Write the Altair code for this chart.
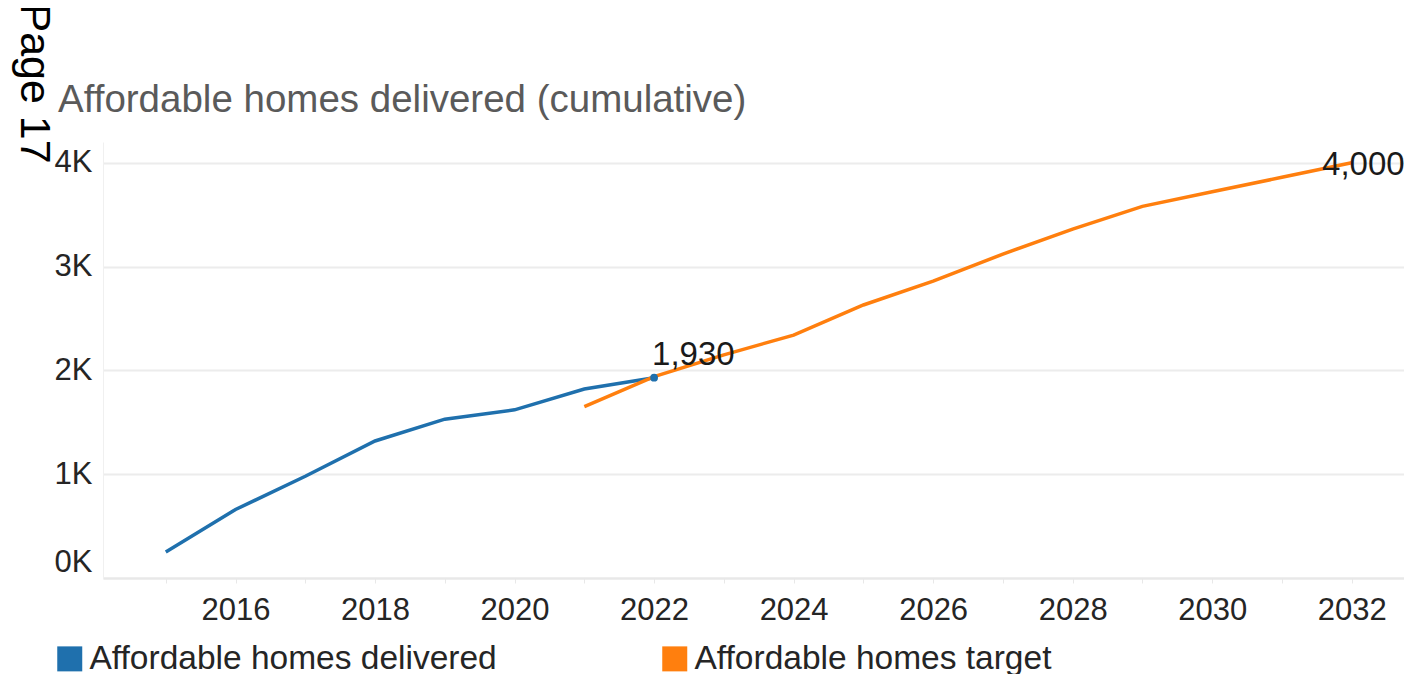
import altair as alt
import pandas as pd

# ---- data ----
series_names = ["Affordable homes delivered", "Affordable homes target"]
series_colors = ["#1f70ad", "#ff7f0e"]

delivered_years = [2015, 2016, 2017, 2018, 2019, 2020, 2021, 2022]
delivered_values = [250, 660, 980, 1320, 1530, 1620, 1820, 1930]

target_years = [2021, 2022, 2023, 2024, 2025, 2026, 2027, 2028, 2029, 2030, 2031, 2032]
target_values = [1650, 1940, 2150, 2340, 2630, 2860, 3120, 3360, 3580, 3720, 3860, 4000]

x_ticks = list(range(2015, 2033))
y_ticks = [0, 1000, 2000, 3000, 4000]

rows = []
for y, v in zip(delivered_years, delivered_values):
    rows.append({"year": y, "value": v, "series": series_names[0]})
for y, v in zip(target_years, target_values):
    rows.append({"year": y, "value": v, "series": series_names[1]})
df = pd.DataFrame(rows)

FONT = "Liberation Sans"

x_enc = alt.X(
    "year:Q",
    scale=alt.Scale(domain=[2014.1, 2032.75], nice=False, zero=False),
    axis=alt.Axis(
        values=x_ticks,
        labelExpr="datum.value % 2 == 0 ? '' + datum.value : ''",
        title=None,
        grid=False,
        domainColor="#e8e8e8",
        domainWidth=2,
        tickColor="#e8e8e8",
        tickSize=5,
        tickWidth=1,
        labelFont=FONT,
        labelFontSize=31,
        labelColor="#252525",
        labelPadding=12,
    ),
)

y_enc = alt.Y(
    "value:Q",
    scale=alt.Scale(domain=[0, 4200], nice=False),
    axis=alt.Axis(
        values=y_ticks,
        labelExpr="(datum.value / 1000) + 'K'",
        title="Page 17",
        titleAngle=90,
        titleAlign="left",
        titleBaseline="alphabetic",
        titleX=-83,
        titleY=-139,
        titleFont=FONT,
        titleFontSize=43,
        titleFontWeight="normal",
        titleColor="#000000",
        grid=True,
        gridColor="#ececec",
        gridWidth=2,
        domain=True,
        domainColor="#f0f0f0",
        domainWidth=1,
        ticks=False,
        labelFont=FONT,
        labelFontSize=31,
        labelColor="#252525",
        labelPadding=11,
        labelFlush=True,
    ),
)

color_enc = alt.Color(
    "series:N",
    scale=alt.Scale(domain=series_names, range=series_colors),
    legend=alt.Legend(
        title=None,
        orient="none",
        legendX=-50,
        legendY=500,
        direction="horizontal",
        symbolType="square",
        symbolSize=144,
        symbolStrokeWidth=13,
        labelFont=FONT,
        labelFontSize=33.5,
        labelColor="#252525",
        labelOffset=3,
        columnPadding=145,
        labelLimit=600,
    ),
)

base = alt.Chart(df)

lines = base.mark_line(strokeWidth=3.5).encode(
    x=x_enc, y=y_enc, color=color_enc, detail="series:N"
)

end_dot = base.mark_point(filled=True, size=60, opacity=1).encode(
    x="year:Q",
    y="value:Q",
    color=alt.Color("series:N", scale=alt.Scale(domain=series_names, range=series_colors), legend=None),
).transform_filter(
    (alt.datum.series == series_names[0]) & (alt.datum.year == 2022)
)

label_delivered = base.mark_text(
    align="left", baseline="alphabetic", dx=-2, dy=-13,
    font=FONT, fontSize=33, color="#1a1a1a",
).encode(
    x="year:Q", y="value:Q", text=alt.Text("value:Q", format=",")
).transform_filter(
    (alt.datum.series == series_names[0]) & (alt.datum.year == 2022)
)

label_target = base.mark_text(
    align="right", baseline="alphabetic", dx=53, dy=12,
    font=FONT, fontSize=33, color="#1a1a1a",
).encode(
    x="year:Q", y="value:Q", text=alt.Text("value:Q", format=",")
).transform_filter(
    (alt.datum.series == series_names[1]) & (alt.datum.year == 2032)
)

chart = alt.layer(lines, end_dot, label_delivered, label_target).properties(
    width=1301,
    height=436,
    autosize=alt.AutoSizeParams(type="none"),
    padding={"left": 95, "top": 134, "right": 0, "bottom": 96},
    title=alt.TitleParams(
        "Affordable homes delivered (cumulative)",
        anchor="start",
        frame="group",
        font=FONT,
        fontSize=38.5,
        fontWeight="normal",
        color="#5a5a5a",
        dx=-45,
        dy=131,
        offset=14,
    ),
).configure_view(stroke=None)

chart.save("out.html", embed_options={"renderer": "svg", "actions": False})
